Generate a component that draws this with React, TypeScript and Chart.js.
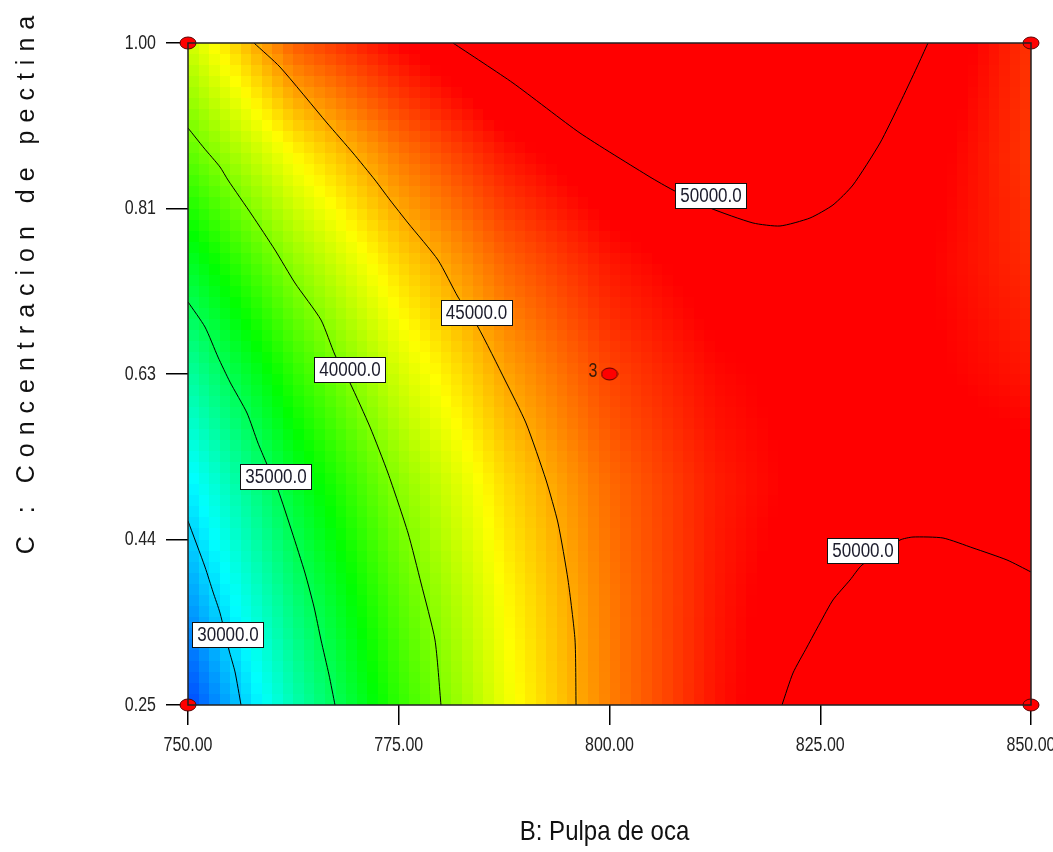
import React, { useEffect, useRef } from "react";
import { Chart, registerables } from "chart.js";

Chart.register(...registerables);

// ---- Data ----
const bValues = [750, 762.5, 775, 787.5, 800, 812.5, 825, 837.5, 850];
const cValues = [0.25, 0.375, 0.5, 0.625, 0.75, 0.875, 1.0];
// response estimates at (C row, B column)
const row025 = [26600, 32800, 38100, 42550, 46010, 48550, 50200, 50930, 50750];
const row0375 = [28700, 34250, 39050, 43050, 46150, 48450, 49900, 50350, 50150];
const row050 = [30650, 35900, 40250, 43800, 46500, 48350, 49330, 49500, 49400];
const row0625 = [33200, 38000, 41980, 45100, 47380, 48800, 49380, 49150, 48500];
const row075 = [36000, 40350, 43900, 46600, 48450, 49500, 49680, 49050, 48000];
const row0875 = [39200, 43100, 46200, 48500, 50000, 50620, 50440, 49420, 47700];
const row100 = [41800, 46800, 49000, 50850, 51850, 52080, 51500, 50050, 47800];
const responseRows = [row025, row0375, row050, row0625, row075, row0875, row100];

const colorStopValues = [25000, 31000, 37000, 43000, 49000];
const colorStopRGB = [
  [0, 0, 255],
  [0, 255, 255],
  [0, 255, 0],
  [255, 255, 0],
  [255, 0, 0],
];

const xTickValues = [750, 775, 800, 825, 850];
const xTickLabels = ["750.00", "775.00", "800.00", "825.00", "850.00"];
const yTickValues = [0.25, 0.4375, 0.625, 0.8125, 1.0];
const yTickLabels = ["0.25", "0.44", "0.63", "0.81", "1.00"];

const xTitle = "B: Pulpa de oca";
const yTitle = "C : Concentracion de pectina";

// contour lines [B, C]
const contour30000 = [[750, 0.4585], [752.02, 0.4063], [752.97, 0.378], [753.8, 0.3542], [754.86, 0.3123], [755.58, 0.2874], [756.29, 0.25]];
const contour35000 = [[750, 0.7066], [752.02, 0.6782], [753.56, 0.6442], [754.98, 0.6159], [757.0, 0.5808], [758.3, 0.5468], [759.25, 0.5253], [760.68, 0.4936], [762.34, 0.446], [763.88, 0.3995], [764.95, 0.361], [765.78, 0.3236], [766.73, 0.284], [767.44, 0.25]];
const contour40000 = [[750, 0.9037], [751.9, 0.881], [753.8, 0.8595], [754.74, 0.8448], [757.59, 0.8051], [760.32, 0.7655], [762.69, 0.7281], [765.78, 0.6862], [767.44, 0.6465], [769.22, 0.6148], [771.59, 0.5649], [773.72, 0.5128], [776.1, 0.4449], [777.64, 0.3882], [779.3, 0.3236], [780.01, 0.25]];
const contour45000 = [[757.83, 1.0], [760.91, 0.9728], [766.49, 0.9094], [769.57, 0.8754], [772.18, 0.8448], [773.96, 0.8221], [776.1, 0.7961], [779.66, 0.7541], [782.03, 0.7122], [784.4, 0.6782], [787.6, 0.6182], [790.09, 0.5695], [792.47, 0.5049], [793.89, 0.4562], [795.08, 0.3916], [795.91, 0.3236], [796.03, 0.25]];
const contour50000Upper = [[781.44, 1.0], [788.55, 0.9547], [796.5, 0.898], [804.8, 0.8482], [807.53, 0.8334], [811.92, 0.8131], [817.02, 0.7961], [820.23, 0.7927], [823.78, 0.8017], [826.51, 0.8165], [828.88, 0.8391], [832.09, 0.8867], [834.46, 0.932], [836.48, 0.9728], [837.78, 1.0]];
const contour50000Lower = [[820.46, 0.25], [821.77, 0.2863], [823.43, 0.3157], [824.97, 0.3429], [826.51, 0.369], [828.53, 0.3916], [829.95, 0.4086], [834.46, 0.4369], [836.0, 0.4403], [839.56, 0.4392], [843.12, 0.4279], [847.15, 0.4143], [850, 0.4007]];
const contourLines = [contour30000, contour35000, contour40000, contour45000, contour50000Upper, contour50000Lower];

const contourLabelTexts = ["30000.0", "35000.0", "40000.0", "45000.0", "50000.0", "50000.0"];
const contourLabelB = [754.74, 760.44, 769.22, 784.22, 812.04, 830.07];
const contourLabelC = [0.33, 0.5089, 0.6301, 0.6952, 0.8272, 0.425];

const designB = [750, 750, 850, 850, 800];
const designC = [0.25, 1.0, 0.25, 1.0, 0.625];
const designReplicates = ["", "", "", "", "3"];

const FONT = "'Liberation Sans', Arial, Helvetica, sans-serif";

function colorFor(v: number): string {
  const s = colorStopValues;
  const c = colorStopRGB;
  if (v <= s[0]) return `rgb(${c[0][0]},${c[0][1]},${c[0][2]})`;
  for (let k = 0; k < s.length - 1; k++) {
    if (v <= s[k + 1]) {
      const t = (v - s[k]) / (s[k + 1] - s[k]);
      const r = Math.round(c[k][0] + (c[k + 1][0] - c[k][0]) * t);
      const g = Math.round(c[k][1] + (c[k + 1][1] - c[k][1]) * t);
      const b = Math.round(c[k][2] + (c[k + 1][2] - c[k][2]) * t);
      return `rgb(${r},${g},${b})`;
    }
  }
  const l = c[c.length - 1];
  return `rgb(${l[0]},${l[1]},${l[2]})`;
}

function makeDot(): HTMLCanvasElement {
  const cv = document.createElement("canvas");
  cv.width = 18;
  cv.height = 14;
  const ctx = cv.getContext("2d")!;
  ctx.beginPath();
  ctx.ellipse(9, 7, 8, 6, 0, 0, Math.PI * 2);
  ctx.fillStyle = "#ff0000";
  ctx.fill();
  ctx.lineWidth = 1;
  ctx.strokeStyle = "#5a0000";
  ctx.stroke();
  return cv;
}

// draws text that is slightly taller than wide, like the reference export
function stretchedText(
  ctx: CanvasRenderingContext2D,
  text: string,
  x: number,
  y: number,
  size: number,
  sy: number,
  align: CanvasTextAlign,
  color: string
) {
  ctx.save();
  ctx.translate(x, y);
  ctx.scale(1, sy);
  ctx.font = `${size}px ${FONT}`;
  ctx.textAlign = align;
  ctx.textBaseline = "middle";
  ctx.fillStyle = color;
  ctx.fillText(text, 0, 0);
  ctx.restore();
}

const contourPlugin = {
  id: "contourExtras",
  beforeDatasetsDraw(chart: any) {
    const { ctx, chartArea, scales } = chart;
    const xs = scales.x;
    const ys = scales.y;
    const n = 10;
    ctx.save();
    ctx.beginPath();
    ctx.rect(chartArea.left, chartArea.top, chartArea.right - chartArea.left, chartArea.bottom - chartArea.top);
    ctx.clip();
    for (let j = 0; j < cValues.length - 1; j++) {
      for (let i = 0; i < bValues.length - 1; i++) {
        const v00 = responseRows[j][i];
        const v10 = responseRows[j][i + 1];
        const v01 = responseRows[j + 1][i];
        const v11 = responseRows[j + 1][i + 1];
        for (let sj = 0; sj < n; sj++) {
          for (let si = 0; si < n; si++) {
            const b0 = bValues[i] + ((bValues[i + 1] - bValues[i]) * si) / n;
            const b1 = bValues[i] + ((bValues[i + 1] - bValues[i]) * (si + 1)) / n;
            const c0 = cValues[j] + ((cValues[j + 1] - cValues[j]) * sj) / n;
            const c1 = cValues[j] + ((cValues[j + 1] - cValues[j]) * (sj + 1)) / n;
            const tx = (si + 0.5) / n;
            const ty = (sj + 0.5) / n;
            const v =
              v00 * (1 - tx) * (1 - ty) + v10 * tx * (1 - ty) + v01 * (1 - tx) * ty + v11 * tx * ty;
            const x0 = Math.round(xs.getPixelForValue(b0));
            const x1 = Math.round(xs.getPixelForValue(b1));
            const y0 = Math.round(ys.getPixelForValue(c0));
            const y1 = Math.round(ys.getPixelForValue(c1));
            ctx.fillStyle = colorFor(v);
            ctx.fillRect(x0, y1, x1 - x0, y0 - y1);
          }
        }
      }
    }
    ctx.restore();
  },
  afterDatasetsDraw(chart: any) {
    const { ctx, chartArea, scales } = chart;
    const xs = scales.x;
    const ys = scales.y;
    ctx.save();
    ctx.strokeStyle = "#222";
    ctx.lineWidth = 1.5;
    ctx.strokeRect(chartArea.left, chartArea.top, chartArea.right - chartArea.left, chartArea.bottom - chartArea.top);
    ctx.font = `17px ${FONT}`;
    for (let k = 0; k < contourLabelTexts.length; k++) {
      const px = xs.getPixelForValue(contourLabelB[k]);
      const py = ys.getPixelForValue(contourLabelC[k]);
      const w = ctx.measureText(contourLabelTexts[k]).width + 10;
      const h = 25;
      ctx.fillStyle = "#ffffff";
      ctx.fillRect(Math.round(px - w / 2), Math.round(py - h / 2), Math.round(w), h);
      ctx.strokeStyle = "#111";
      ctx.lineWidth = 1;
      ctx.strokeRect(Math.round(px - w / 2) + 0.5, Math.round(py - h / 2) + 0.5, Math.round(w), h);
      stretchedText(ctx, contourLabelTexts[k], px, py + 1, 17, 1.22, "center", "#1c1c2c");
    }
    for (let k = 0; k < designB.length; k++) {
      if (!designReplicates[k]) continue;
      const px = xs.getPixelForValue(designB[k]);
      const py = ys.getPixelForValue(designC[k]);
      stretchedText(ctx, designReplicates[k], px - 12, py - 3, 16, 1.25, "right", "#3a1a08");
    }
    ctx.restore();
  },
  afterDraw(chart: any) {
    const { ctx, chartArea, scales } = chart;
    const xs = scales.x;
    const ys = scales.y;
    // tick labels, placed by the scales
    for (let i = 0; i < xTickValues.length; i++) {
      const px = xs.getPixelForValue(xTickValues[i]);
      stretchedText(ctx, xTickLabels[i], px, chartArea.bottom + 40, 16, 1.25, "center", "#222");
    }
    for (let i = 0; i < yTickValues.length; i++) {
      const py = ys.getPixelForValue(yTickValues[i]);
      stretchedText(ctx, yTickLabels[i], chartArea.left - 32, py, 16, 1.25, "right", "#222");
    }
    ctx.save();
    ctx.fillStyle = "#111";
    ctx.font = `24px ${FONT}`;
    ctx.textAlign = "center";
    ctx.textBaseline = "alphabetic";
    ctx.save();
    ctx.translate((chartArea.left + chartArea.right) / 2 - 5, 840);
    ctx.scale(1, 1.12);
    ctx.fillText(xTitle, 0, 0);
    ctx.restore();
    ctx.translate(34, 281);
    ctx.rotate(-Math.PI / 2);
    ctx.font = `25px ${FONT}`;
    (ctx as any).letterSpacing = "8px";
    ctx.fillText(yTitle, 0, 0);
    ctx.restore();
  },
};

export default function App() {
  const canvasRef = useRef<HTMLCanvasElement | null>(null);

  useEffect(() => {
    const canvas = canvasRef.current;
    if (!canvas) return;
    const dot = makeDot();
    const lineDatasets = contourLines.map((pts) => ({
      type: "line" as const,
      data: pts.map(([b, c]) => ({ x: b, y: c })),
      showLine: true,
      borderColor: "#000",
      borderWidth: 1,
      pointRadius: 0,
      tension: 0.2,
      fill: false,
    }));
    const chart = new Chart(canvas, {
      type: "scatter",
      data: {
        datasets: [
          ...lineDatasets,
          {
            type: "scatter" as const,
            data: designB.map((b, k) => ({ x: b, y: designC[k] })),
            pointStyle: dot as any,
            pointRadius: 8,
            clip: false as any,
          },
        ] as any,
      },
      plugins: [contourPlugin],
      options: {
        animation: false,
        responsive: false,
        devicePixelRatio: 1,
        layout: { padding: { left: 0, right: 22, top: 43, bottom: 0 } },
        plugins: { legend: { display: false }, tooltip: { enabled: false } },
        events: [],
        scales: {
          x: {
            type: "linear",
            min: 750,
            max: 850,
            afterBuildTicks: (s: any) => {
              s.ticks = xTickValues.map((v) => ({ value: v }));
            },
            afterFit: (s: any) => {
              s.height = 147;
              s.paddingLeft = 0;
              s.paddingRight = 0;
            },
            ticks: {
              display: false,
              autoSkip: false,
              callback: (_v: any, i: number) => xTickLabels[i],
            },
            grid: { display: true, drawOnChartArea: false, drawTicks: true, tickLength: 20, color: "#000", lineWidth: 1.5 },
            border: { display: false },
          },
          y: {
            type: "linear",
            min: 0.25,
            max: 1.0,
            afterBuildTicks: (s: any) => {
              s.ticks = yTickValues.map((v) => ({ value: v }));
            },
            afterFit: (s: any) => {
              s.width = 188;
              s.paddingTop = 0;
              s.paddingBottom = 0;
            },
            ticks: {
              display: false,
              autoSkip: false,
              callback: (_v: any, i: number) => yTickLabels[i],
            },
            grid: { display: true, drawOnChartArea: false, drawTicks: true, tickLength: 22, color: "#000", lineWidth: 1.5 },
            border: { display: false },
          },
        },
      } as any,
    });
    return () => chart.destroy();
  }, []);

  return (
    <div style={{ position: "fixed", left: 0, top: 0, width: 1053, height: 852, background: "#fff", overflow: "hidden" }}>
      <canvas ref={canvasRef} width={1053} height={852} style={{ display: "block", width: 1053, height: 852 }} />
    </div>
  );
}
